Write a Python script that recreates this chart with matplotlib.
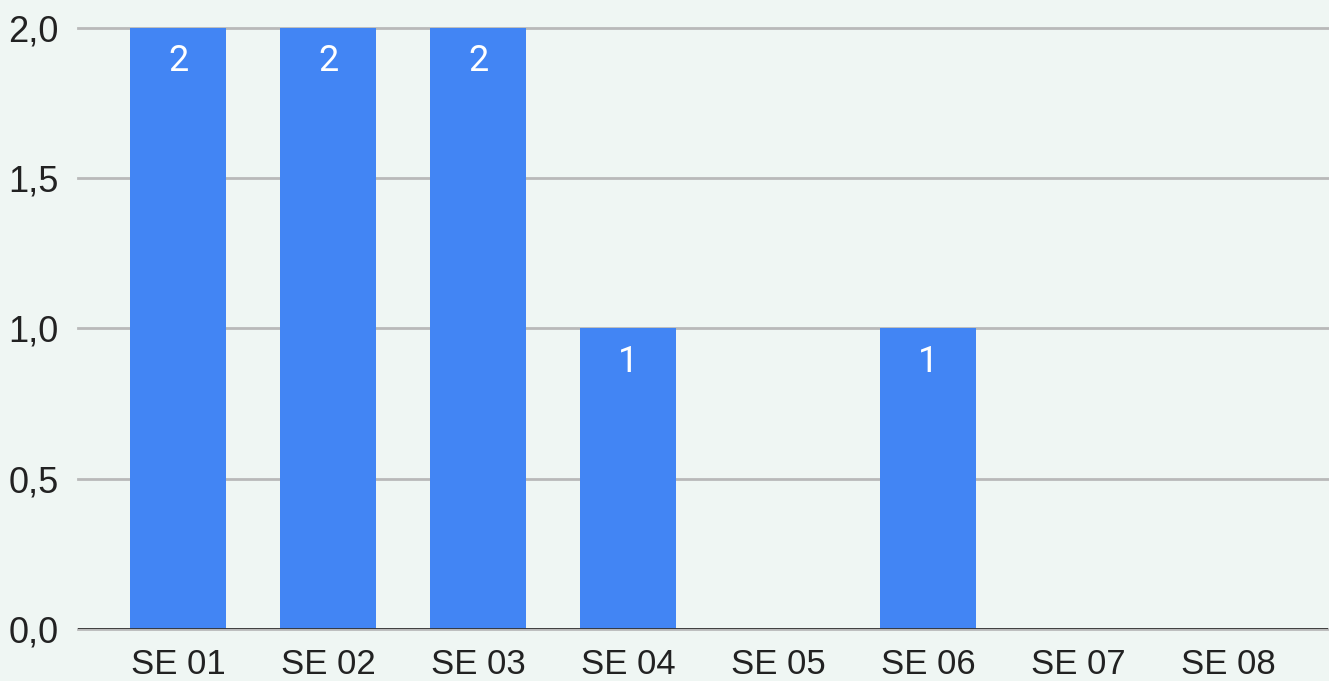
import matplotlib
matplotlib.use('Agg')
import matplotlib.pyplot as plt
import numpy as np

categories = ['SE 01', 'SE 02', 'SE 03', 'SE 04', 'SE 05', 'SE 06', 'SE 07', 'SE 08']
values = [2, 2, 2, 1, 0, 1, 0, 0]
yticks = [0.0, 0.5, 1.0, 1.5, 2.0]

BG = '#eff6f3'
BAR = '#4285f4'

plt.rcParams['font.family'] = ['Liberation Sans', 'DejaVu Sans']

fig = plt.figure(figsize=(13.29, 6.81), dpi=100, facecolor=BG)
ax = fig.add_axes([0.0587, 0.0764, 0.9405, 0.8825], facecolor=BG)

x = np.arange(len(categories))
bars = ax.bar(x, values, width=0.64, color=BAR, zorder=3)

for xi, v in zip(x, values):
    if v > 0:
        ax.annotate(str(v), (xi, v), xytext=(0, -24), textcoords='offset points',
                    ha='center', va='center', color='white', fontsize=26,
                    family=['Roboto', 'DejaVu Sans'], zorder=4)

ax.set_xlim(-0.667, len(categories) - 1 + 0.667)
ax.set_ylim(0, 2)
ax.set_yticks(yticks)
ax.set_yticklabels([f'{t:.1f}'.replace('.', ',') for t in yticks])
ax.set_xticks(x)
ax.set_xticklabels(categories)

ax.grid(axis='y', color='#b9b9b9', linewidth=2, zorder=1)
ax.axhline(0, color='#333333', linewidth=2, zorder=5)
for s in ax.spines.values():
    s.set_visible(False)
for gl in ax.get_ygridlines():
    gl.set_clip_on(False)

ax.tick_params(axis='y', length=0, pad=14, labelsize=26, labelcolor='#222222')
ax.tick_params(axis='x', length=0, pad=14, labelsize=25, labelcolor='#222222')

fig.savefig('out.png', dpi=100, facecolor=BG)
